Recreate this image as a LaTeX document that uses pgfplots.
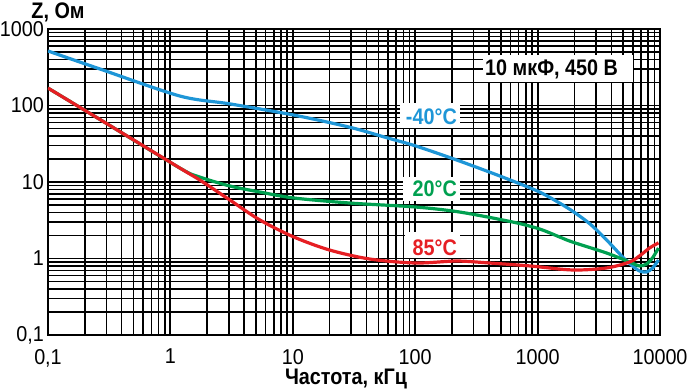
\documentclass[border=0pt]{standalone}
\usepackage{fontspec}
\usepackage{pgfplots}
\pgfplotsset{compat=1.18}
\setmainfont{Liberation Sans}
\newfontfamily\tickf{Liberation Sans}[FakeStretch=0.92]
\newfontfamily\condb{Liberation Sans}[FakeStretch=0.88]
\definecolor{cblue}{RGB}{30,150,215}
\definecolor{cgreen}{RGB}{0,160,80}
\definecolor{cred}{RGB}{230,30,35}
\begin{document}
\begin{tikzpicture}
\begin{axis}[
  scale only axis, width=612pt, height=306pt,
  xmode=log, ymode=log,
  xmin=0.1, xmax=10000, ymin=0.1, ymax=1000,
  xtick={0.1,1,10,100,1000,10000},
  xticklabels={{0,1},1,10,100,1000,10000},
  ytick={0.1,1,10,100,1000},
  yticklabels={{0,1},1,10,100,1000},
  grid=both,
  major grid style={black, line width=1.9pt},
  minor grid style={black, line width=1.6pt},
  axis line style={black, line width=2.6pt},
  major tick length=0pt, minor tick length=0pt,
  tick label style={font=\tickf\fontsize{21.5}{24}\selectfont, inner sep=0pt},
  xticklabel style={yshift=-14pt},
  yticklabel style={xshift=-4pt},
]
\addplot[cblue, line width=3.2pt, smooth, tension=0.5] coordinates {
(0.1,516)(0.266,300)(1.196,133)(3.06,105)(10.2,75)(29.2,52)(59.7,37.6)(101,29.6)(218,19.4)(490,12.0)(1000,7.6)(1514,5.3)(2000,4.0)(2700,2.8)(3660,1.75)(4940,1.05)(5850,0.82)(6800,0.687)(7760,0.667)(8690,0.75)(9720,0.955)
};
\addplot[cgreen, line width=3.2pt, smooth, tension=0.5] coordinates {
(0.1,169)(0.266,65.6)(1.196,15.2)(1.74,11.6)(3.06,8.87)(5.38,7.40)(10.2,6.18)(29.2,5.31)(101,4.71)(231,4.05)(625,3.0)(1038,2.43)(1514,1.91)(1930,1.64)(3660,1.18)(5640,0.90)(6800,0.80)(7760,0.847)(8690,1.02)(9720,1.37)
};
\addplot[cred, line width=3.2pt, smooth, tension=0.5] coordinates {
(0.1,169)(0.266,65.6)(1.196,15.2)(1.74,10.6)(3.06,5.82)(5.38,3.19)(10.2,1.91)(20.0,1.29)(42.6,0.984)(101,0.873)(218,0.927)(406,0.873)(861,0.80)(1930,0.708)(3660,0.752)(5640,0.90)(6800,1.08)(8200,1.37)(9720,1.60)
};
\end{axis}
% labels and boxes (axis south west at origin, 1pt = 1px)
\fill[white] (435pt,253pt) rectangle (585pt,280pt);
\node[anchor=base west, inner sep=0pt, font=\condb\bfseries\fontsize{22.5}{24}\selectfont] at (437pt,259pt) {10 мкФ, 450 В};
\fill[white] (352pt,207pt) rectangle (412pt,232pt);
\node[anchor=base east, inner sep=0pt, text=cblue, font=\condb\bfseries\fontsize{22.5}{24}\selectfont] at (409pt,210pt) {-40°C};
\fill[white] (355pt,134pt) rectangle (412pt,158pt);
\node[anchor=base east, inner sep=0pt, text=cgreen, font=\condb\bfseries\fontsize{22.5}{24}\selectfont] at (409pt,138pt) {20°C};
\fill[white] (357pt,77pt) rectangle (412pt,103pt);
\node[anchor=base east, inner sep=0pt, text=cred, font=\condb\bfseries\fontsize{22.5}{24}\selectfont] at (409pt,80pt) {85°C};
\node[anchor=base, inner sep=0pt, font=\condb\bfseries\fontsize{22.5}{24}\selectfont] at (10pt,316pt) {Z, Ом};
\node[anchor=base, inner sep=0pt, font=\condb\bfseries\fontsize{22.5}{24}\selectfont] at (298pt,-49pt) {Частота, кГц};
\pgfresetboundingbox
\path (-48pt,-56pt) rectangle (639pt,335pt);
\end{tikzpicture}
\end{document}
